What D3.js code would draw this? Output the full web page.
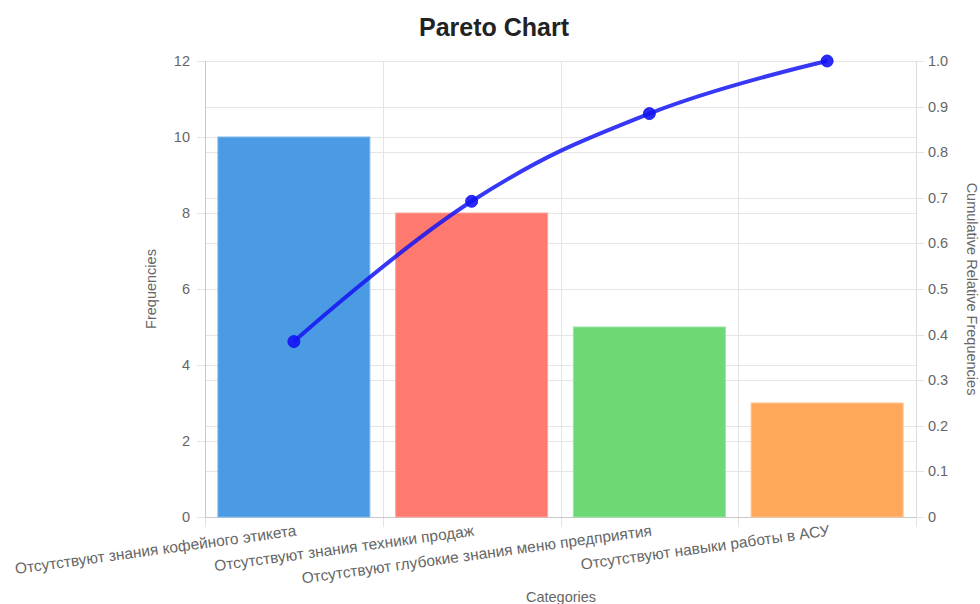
<!DOCTYPE html>
<html>
<head>
<meta charset="utf-8">
<script src="https://cdn.jsdelivr.net/npm/d3@7"></script>
<style>
  html, body { margin: 0; padding: 0; background: #fff; }
  svg { display: block; font-family: "Liberation Sans", Arial, Helvetica, sans-serif; }
</style>
</head>
<body>
<svg id="chart" width="980" height="604"></svg>
<script>
// Categories and their frequencies
const categories = [
  "Отсутствуют знания кофейного этикета",
  "Отсутствуют знания техники продаж",
  "Отсутствуют глубокие знания меню предприятия",
  "Отсутствуют навыки работы в АСУ"
];
const frequencies = [10, 8, 5, 3];
const barColors = ["#4a9be3", "#ff7a6e", "#6cd876", "#ffa85c"];
const barBorders = ["#7fb8ec", "#ffa39b", "#98e3a0", "#ffc38e"];
const leftTicks = [0, 2, 4, 6, 8, 10, 12];
const rightTicks = [0, 0.1, 0.2, 0.3, 0.4, 0.5, 0.6, 0.7, 0.8, 0.9, 1.0];

// Cumulative relative frequencies
const total = d3.sum(frequencies);
const cumulative = [];
frequencies.reduce((acc, v, i) => { cumulative[i] = (acc + v) / total; return acc + v; }, 0);

const svg = d3.select("#chart");
const m = { left: 205, right: 916, top: 61, bottom: 517 };

const x = d3.scaleBand().domain(categories).range([m.left, m.right]).paddingInner(0).paddingOuter(0);
const yL = d3.scaleLinear().domain([0, 12]).range([m.bottom, m.top]);
const yR = d3.scaleLinear().domain([0, 1]).range([m.bottom, m.top]);

const gridColor = "#e5e5e5";
const textColor = "#666";

// Horizontal grid from the right axis
svg.append("g").selectAll("line").data(rightTicks).join("line")
  .attr("x1", m.left).attr("x2", m.right + 8)
  .attr("y1", d => Math.round(yR(d)) + 0.5).attr("y2", d => Math.round(yR(d)) + 0.5)
  .attr("stroke", gridColor).attr("stroke-width", 1);

// Horizontal grid from the left axis
svg.append("g").selectAll("line").data(leftTicks).join("line")
  .attr("x1", m.left - 8).attr("x2", m.right)
  .attr("y1", d => Math.round(yL(d)) + 0.5).attr("y2", d => Math.round(yL(d)) + 0.5)
  .attr("stroke", gridColor).attr("stroke-width", 1);

// Vertical grid at category boundaries
const bounds = categories.map(c => x(c)).concat([m.right]);
svg.append("g").selectAll("line").data(bounds).join("line")
  .attr("x1", d => Math.round(d) + 0.5).attr("x2", d => Math.round(d) + 0.5)
  .attr("y1", m.top).attr("y2", m.bottom + 10)
  .attr("stroke", gridColor).attr("stroke-width", 1);

// Axis lines
svg.append("line").attr("x1", m.left + 0.5).attr("x2", m.left + 0.5)
  .attr("y1", m.top).attr("y2", m.bottom).attr("stroke", "#c8c8c8");
svg.append("line").attr("x1", m.right + 0.5).attr("x2", m.right + 0.5)
  .attr("y1", m.top).attr("y2", m.bottom).attr("stroke", "#dcdcdc");
svg.append("line").attr("x1", m.left).attr("x2", m.right)
  .attr("y1", m.bottom + 0.5).attr("y2", m.bottom + 0.5).attr("stroke", "#c8c8c8");

// Bars
const barW = x.bandwidth() * 0.855;
svg.append("g").selectAll("rect").data(frequencies).join("rect")
  .attr("x", (d, i) => x(categories[i]) + (x.bandwidth() - barW) / 2)
  .attr("y", d => yL(d))
  .attr("width", barW)
  .attr("height", d => yL(0) - yL(d))
  .attr("fill", (d, i) => barColors[i])
  .attr("stroke", (d, i) => barBorders[i])
  .attr("stroke-width", 1);

// Left tick labels
svg.append("g").selectAll("text").data(leftTicks).join("text")
  .attr("x", 190).attr("y", d => yL(d)).attr("dy", "0.35em")
  .attr("text-anchor", "end").attr("font-size", 14.5).attr("fill", textColor)
  .text(d => d);

// Right tick labels
svg.append("g").selectAll("text").data(rightTicks).join("text")
  .attr("x", 928).attr("y", d => yR(d)).attr("dy", "0.35em")
  .attr("text-anchor", "start").attr("font-size", 14.5).attr("fill", textColor)
  .text(d => d === 0 ? "0" : d.toFixed(1));

// Category labels, slightly rotated
svg.append("g").selectAll("text").data(categories).join("text")
  .attr("transform", c => `translate(${x(c) + x.bandwidth() / 2 + 1},${m.bottom + 4}) rotate(-7.8)`)
  .attr("dy", "0.95em")
  .attr("text-anchor", "end").attr("font-size", 15.5).attr("fill", textColor)
  .text(c => c);

// Cumulative line
const pts = cumulative.map((v, i) => [x(categories[i]) + x.bandwidth() / 2, yR(v)]);
svg.append("path")
  .attr("d", d3.line().curve(d3.curveCardinal.tension(-0.2))(pts))
  .attr("fill", "none").attr("stroke", "rgba(20,20,245,0.85)").attr("stroke-width", 4);
svg.append("g").selectAll("circle").data(pts).join("circle")
  .attr("cx", d => d[0]).attr("cy", d => d[1]).attr("r", 6)
  .attr("fill", "rgba(20,20,245,0.9)").attr("stroke", "rgba(20,20,245,0.9)").attr("stroke-width", 1);

// Title and axis titles
svg.append("text").attr("x", 494).attr("y", 36).attr("text-anchor", "middle")
  .attr("font-size", 25).attr("font-weight", "bold").attr("fill", "#222").text("Pareto Chart");
svg.append("text").attr("transform", `translate(156,${(m.top + m.bottom) / 2}) rotate(-90)`)
  .attr("text-anchor", "middle").attr("font-size", 14.5).attr("fill", textColor).text("Frequencies");
svg.append("text").attr("transform", `translate(967,${(m.top + m.bottom) / 2}) rotate(90)`)
  .attr("text-anchor", "middle").attr("font-size", 14.5).attr("fill", textColor).text("Cumulative Relative Frequencies");
svg.append("text").attr("x", 561).attr("y", 602).attr("text-anchor", "middle")
  .attr("font-size", 14.5).attr("fill", textColor).text("Categories");
</script>
</body>
</html>
